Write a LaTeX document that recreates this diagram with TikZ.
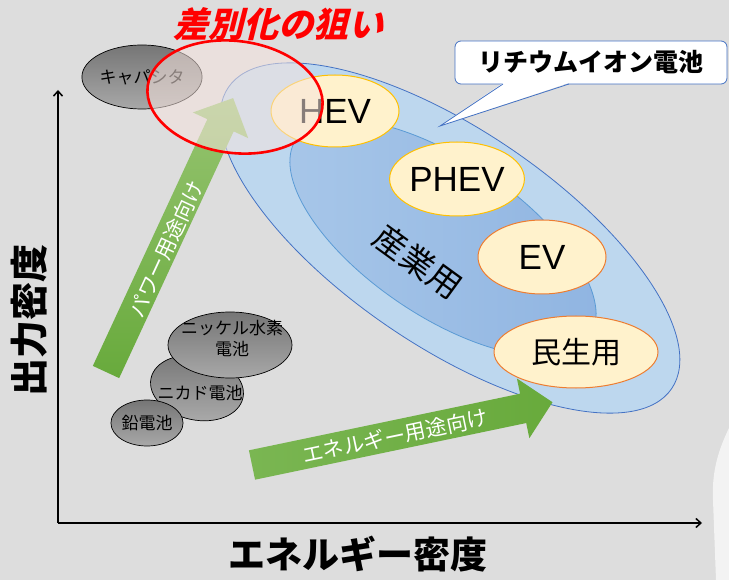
\documentclass[tikz,border=0pt]{standalone}
\usepackage{fontspec}
\setmainfont{Liberation Sans}
\newfontfamily\jp{Noto Sans CJK JP}
\newfontfamily\jpslant[FakeSlant=0.25]{Noto Sans CJK JP}
\usetikzlibrary{arrows.meta,shapes.geometric}
\definecolor{bg}{RGB}{221,221,221}
\definecolor{bgw}{RGB}{243,243,243}
\definecolor{lb}{RGB}{189,215,238}
\definecolor{edgeblue}{RGB}{68,114,196}
\definecolor{inedge}{RGB}{91,155,213}
\definecolor{inA}{RGB}{168,199,233}
\definecolor{inB}{RGB}{143,180,225}
\definecolor{cream}{RGB}{255,242,204}
\definecolor{gold}{RGB}{255,192,0}
\definecolor{orng}{RGB}{237,125,49}
\definecolor{grayA}{RGB}{118,118,118}
\definecolor{grayB}{RGB}{168,168,168}
\definecolor{grnA}{RGB}{104,170,60}
\definecolor{grnB}{RGB}{150,196,112}
\definecolor{grnC}{RGB}{122,182,82}
\definecolor{pinkf}{RGB}{246,228,222}
\begin{document}
\begin{tikzpicture}[x=1pt,y=-1pt,
  evnode/.style={ellipse, fill=cream, line width=1pt, inner sep=0pt,
    font=\fontsize{35}{40}\selectfont},
  bat/.style={ellipse, draw=black, line width=0.7pt, top color=grayA,
    bottom color=grayB, inner sep=0pt},
  battxt/.style={font=\jp\fontsize{17}{21}\selectfont, align=center, text=black},
  axis/.style={line width=1.5pt, -{Straight Barb[length=5pt,width=9pt]}},
  arrtxt/.style={text=white, font=\jp\fontsize{21}{24}\selectfont}]
\useasboundingbox (0,0) rectangle (729,580);
\fill[bg] (0,0) rectangle (729,580);
\fill[bgw] (729,428) .. controls (716,455) and (712,475) .. (713,500) -- (716,580) -- (729,580) -- cycle;

% axes
\coordinate (origin) at (58,523);
\coordinate (yend) at (58,90);
\coordinate (xend) at (702,523);
\draw[axis] (origin) -- (yend);
\draw[axis] (origin) -- (xend);
\node[rotate=90, font=\jp\bfseries\fontsize{38}{40}\selectfont] (ylabel) at (29,320) {出力密度};
\node[font=\jp\bfseries\fontsize{37}{40}\selectfont] (xlabel) at (358,554) {エネルギー密度};

% lithium-ion ellipses
\node[ellipse, minimum width=536pt, minimum height=216pt, rotate=-34.2, fill=lb,
  draw=edgeblue, line width=0.8pt, inner sep=0pt] (liion) at (450,238) {};
\node[ellipse, minimum width=354pt, minimum height=156pt, rotate=-34,
  left color=inA, right color=inB, draw=inedge, line width=0.8pt, inner sep=0pt] (sangyoell) at (443,238) {};
\node[rotate=-36, font=\jp\fontsize{33}{36}\selectfont] (sangyo) at (418,262) {産業用};

\node[evnode, draw=gold, minimum width=128pt, minimum height=72pt] (hev) at (335,111) {HEV};
\node[evnode, draw=gold, minimum width=130pt, minimum height=74pt] (phev) at (457,179) {PHEV};
\node[evnode, draw=orng, minimum width=128pt, minimum height=74pt] (ev) at (542,257) {EV};
\node[evnode, draw=orng, minimum width=164pt, minimum height=72pt,
  font=\jp\fontsize{30}{34}\selectfont] (minsei) at (576,352) {民生用};

% other batteries
\node[bat, minimum width=94pt, minimum height=64pt, rotate=-12] (nicdell) at (197,388) {};
\node[battxt] (nicd) at (200,393) {ニカド電池};
\node[bat, minimum width=124pt, minimum height=66pt] (nimhell) at (230,345) {};
\node[battxt] (nimh) at (232,338) {ニッケル水素\\電池};
\node[bat, minimum width=68pt, minimum height=46pt, font=\jp\fontsize{17}{20}\selectfont] (lead) at (147,423) {鉛電池};
\node[bat, minimum width=96pt, minimum height=64pt, font=\jp\fontsize{17}{20}\selectfont] (cap) at (142,77) {キャパシタ};

% green block arrows
\begin{scope}[shift={(106,372)}, rotate=65.1]
\shade[bottom color=grnA, top color=grnB] (0,-14.5) -- (272,-14.5) -- (272,-30.5) -- (302,0)
  -- (272,30.5) -- (272,14.5) -- (0,14.5) -- cycle;
\end{scope}
\node[arrtxt, rotate=65.1] (powerlbl) at (166,249) {パワー用途向け};
\begin{scope}[shift={(252,465)}, rotate=11.8]
\shade[left color=grnC, right color=grnA] (0,-15) -- (277,-15) -- (277,-30.5) -- (307,0)
  -- (277,30.5) -- (277,15) -- (0,15) -- cycle;
\end{scope}
\node[arrtxt, rotate=11.8] (energylbl) at (395,436) {エネルギー用途向け};

% callout
\node[draw=edgeblue, fill=white, rounded corners=6pt, minimum width=272pt, minimum height=43pt,
  line width=0.8pt, font=\jp\bfseries\fontsize{25}{28}\selectfont] (callout) at (591,62.5) {リチウムイオン電池};
\coordinate (tip) at (440,126);
\fill[white] (503,83) -- (tip) -- (569,83) -- cycle;
\draw[edgeblue, line width=0.8pt, line join=miter] (503,84) -- (tip) -- (569,84);

% target ellipse
\node[ellipse, draw=red, line width=2.6pt, fill=pinkf, fill opacity=0.55,
  minimum width=176pt, minimum height=112pt, rotate=-7] (target) at (235,97) {};
\node[text=red, font=\jpslant\bfseries\fontsize{35}{38}\selectfont] (title) at (278,24) {差別化の狙い};
\end{tikzpicture}
\end{document}
